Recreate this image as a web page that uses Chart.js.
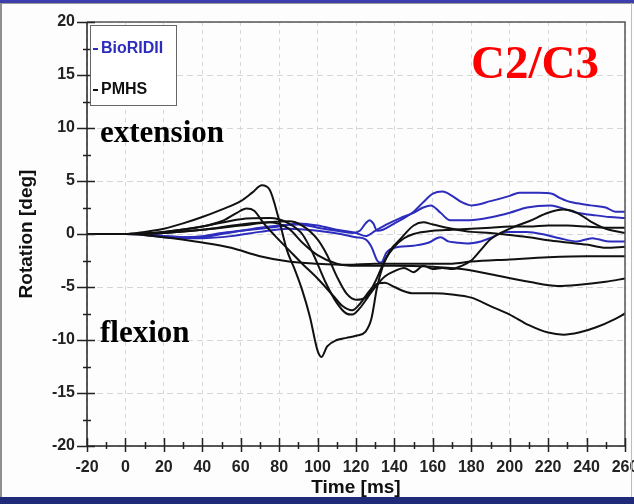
<!DOCTYPE html>
<html><head><meta charset="utf-8">
<script src="https://cdn.jsdelivr.net/npm/chart.js@4"></script>
<style>
html,body{margin:0;padding:0;background:#fff;}
#wrap{position:relative;width:634px;height:504px;overflow:hidden;background:#fdfdfd;}
#c{position:absolute;left:0;top:0;}
.bar{position:absolute;left:0;width:634px;}
.ann{position:absolute;white-space:nowrap;font-family:"Liberation Serif","Times New Roman",serif;font-weight:bold;line-height:1;}
#legend{position:absolute;left:90px;top:25px;width:87px;height:81px;border:1px solid #666;background:#fff;box-sizing:border-box;font-family:"Liberation Sans",Arial,sans-serif;font-weight:bold;font-size:16px;}
.lg{position:absolute;left:2px;white-space:nowrap;line-height:1;}
.lg span.d{display:inline-block;width:5px;height:2px;vertical-align:middle;margin-right:3px;}
</style>
</head><body>
<div id="wrap">
<canvas id="c" width="634" height="504"></canvas>
<div class="bar" style="top:0;height:3px;background:#3d3fae;"></div>
<div class="bar" style="top:3px;height:1px;background:#9a9a9a;"></div>
<div style="position:absolute;left:0;top:3px;width:2px;height:494px;background:#8f8f8f;"></div>
<div style="position:absolute;left:631px;top:3px;width:1px;height:494px;background:#bdbdbd;"></div>
<div class="bar" style="top:497px;height:7px;background:#1f2a78;"></div>
<div id="legend">
  <div class="lg" style="top:14px;color:#2d2dbd;"><span class="d" style="background:#2d2dbd;"></span>BioRIDII</div>
  <div class="lg" style="top:55px;color:#111;"><span class="d" style="background:#111;"></span>PMHS</div>
</div>
<div class="ann" style="left:100px;top:116px;font-size:31px;color:#000;">extension</div>
<div class="ann" style="left:100px;top:316px;font-size:31px;color:#000;">flexion</div>
<div class="ann" style="left:471px;top:39px;font-size:47px;color:#f00;">C2/C3</div>
</div>
<script>
// ---- axis ticks ----
const xTickValues = [-20,0,20,40,60,80,100,120,140,160,180,200,220,240,260];
const yTickValues = [-20,-15,-10,-5,0,5,10,15,20];
const xMinorValues = [-10,10,30,50,70,90,110,130,150,170,190,210,230,250];
const yMinorValues = [-17.5,-12.5,-7.5,-2.5,2.5,7.5,12.5,17.5];

// ---- BioRIDII (blue) ----
const bio1Time = [-20,0,10,20,30,40,50,60,70,80,90,100,110,118,122,125,127,129,131,134,140,145,150,155,160,165,170,175,180,190,200,205,215,222,226,230,235,242,250,255,260];
const bio1Rot  = [0,0,0,-0.2,-0.3,-0.3,0,0.3,0.6,0.8,0.9,0.6,0.3,0.1,0.3,1.0,1.3,1.0,0.3,0.4,1.0,1.5,2.1,3.0,3.8,4.0,3.6,3.0,2.7,3.1,3.6,3.9,3.9,3.8,3.4,3.1,2.9,2.7,2.5,2.1,2.1];
const bio2Time = [-20,0,10,20,30,40,50,60,70,80,90,100,110,120,125,130,136,143,150,155,159,164,169,179,191,200,209,221,226,235,243,252,260];
const bio2Rot  = [0,0,0,-0.2,-0.3,-0.2,0.1,0.3,0.5,0.7,1.0,0.8,0.4,0.1,-0.2,0.3,0.9,1.5,2.0,2.5,2.7,2.0,1.3,1.3,1.6,2.0,2.5,2.7,2.5,2.0,1.8,1.6,1.5];
const bio3Time = [-20,0,10,20,30,40,55,70,85,100,112,120,125,128,131,133,136,140,150,158,162,164,168,172,178,185,191,198,209,219,226,235,243,246,252,260];
const bio3Rot  = [0,0,-0.1,-0.3,-0.4,-0.4,-0.2,0.2,0.5,0.3,0.0,-0.3,-0.5,-1.2,-2.5,-2.7,-1.7,-1.3,-1.1,-0.8,-0.4,-0.3,-0.7,-0.8,-0.9,-0.7,-0.3,0.2,0.2,-0.1,-0.4,-0.7,-0.4,-0.5,-0.7,-0.7];

// ---- PMHS (black) ----
const pmhs1Time = [-20,0,10,20,30,40,50,60,66,71,75,80,84,88,92,96,100,102,105,110,115,120,125,128,131,134,138,143,150,155,160,170,180,190,200,210,220,230,240,250,260];
const pmhs1Rot  = [0,0,0.2,0.5,1.0,1.6,2.3,3.1,3.9,4.6,4.2,1.3,-1.5,-3.3,-5.3,-7.8,-11.0,-11.6,-10.6,-10.0,-9.8,-9.6,-9.2,-8.0,-5.0,-3.0,-1.5,-0.5,0.8,1.1,0.9,0.5,0.2,0.1,-0.1,-0.3,-0.6,-0.8,-1.0,-1.3,-1.2];
const pmhs2Time = [-20,0,20,40,50,58,63,67,72,78,85,92,100,108,113,118,122,126,130,135,140,145,150,160,170,180,190,200,210,220,228,236,245,255,260];
const pmhs2Rot  = [0,0,0.2,0.7,1.2,2.0,2.4,2.2,1.0,-0.2,-1.5,-2.8,-4.2,-5.8,-6.8,-7.2,-6.6,-5.6,-4.8,-4.6,-5.0,-5.4,-5.6,-5.6,-5.7,-6.0,-6.8,-7.6,-8.6,-9.3,-9.5,-9.3,-8.8,-8.0,-7.5];
const pmhs3Time = [-20,0,20,40,60,75,85,92,98,104,110,115,118,122,126,130,135,140,145,150,155,160,165,170,175,180,185,190,200,210,220,228,235,242,250,260];
const pmhs3Rot  = [0,0,0.2,0.7,1.4,1.5,1.0,0.0,-2.0,-4.5,-6.5,-7.5,-7.6,-7.0,-6.0,-5.0,-4.0,-3.5,-3.2,-3.6,-3.0,-3.3,-3.2,-3.3,-3.0,-2.5,-1.5,-0.5,0.5,1.2,2.0,2.3,2.0,1.2,0.5,0.1];
const pmhs4Time = [-20,0,20,40,60,75,85,92,100,105,110,115,120,125,130,135,140,145,150,160,170,180,190,200,210,220,230,240,250,260];
const pmhs4Rot  = [0,0,0.1,0.4,0.8,1.1,1.2,0.8,-0.5,-2.0,-4.0,-5.6,-6.2,-6.0,-4.5,-2.5,-1.2,-0.4,0.0,0.3,0.4,0.5,0.6,0.7,0.7,0.8,0.8,0.7,0.6,0.6];
const pmhs5Time = [-20,0,20,40,55,70,85,100,115,130,150,170,180,200,220,240,260];
const pmhs5Rot  = [0,0,-0.3,-0.8,-1.3,-2.1,-2.6,-2.8,-2.9,-2.8,-2.8,-2.8,-2.6,-2.4,-2.2,-2.1,-2.1];
const pmhs6Time = [-20,0,20,40,60,75,85,92,100,110,120,140,160,175,190,210,225,235,250,260];
const pmhs6Rot  = [0,0,0.1,0.4,0.9,1.1,0.5,-0.8,-2.0,-2.8,-3.0,-3.0,-3.1,-3.3,-3.8,-4.5,-4.9,-4.8,-4.5,-4.2];

const BLUE = '#2d2dbd', BLACK = '#111111';
function pts(t, v){ return t.map((x,i)=>({x:x, y:v[i]})); }
function ds(label, t, v, color){
  return {label, data: pts(t,v), borderColor: color, backgroundColor: color, borderWidth: 2,
          pointRadius: 0, cubicInterpolationMode: 'monotone', fill: false};
}
const datasets = [
  ds('PMHS', pmhs1Time, pmhs1Rot, BLACK),
  ds('PMHS', pmhs2Time, pmhs2Rot, BLACK),
  ds('PMHS', pmhs3Time, pmhs3Rot, BLACK),
  ds('PMHS', pmhs4Time, pmhs4Rot, BLACK),
  ds('PMHS', pmhs5Time, pmhs5Rot, BLACK),
  ds('PMHS', pmhs6Time, pmhs6Rot, BLACK),
  ds('BioRIDII', bio1Time, bio1Rot, BLUE),
  ds('BioRIDII', bio2Time, bio2Rot, BLUE),
  ds('BioRIDII', bio3Time, bio3Rot, BLUE)
];

const frameTicks = {
  id: 'frameTicks',
  afterDraw(chart){
    const {ctx, chartArea:a, scales:{x, y}} = chart;
    ctx.save();
    ctx.strokeStyle = '#555';
    ctx.lineWidth = 1.5;
    ctx.beginPath();
    ctx.moveTo(a.left, a.top); ctx.lineTo(a.right, a.top); ctx.lineTo(a.right, a.bottom);
    ctx.stroke();
    ctx.strokeStyle = '#222';
    ctx.lineWidth = 1.5;
    ctx.beginPath();
    ctx.moveTo(a.left, a.top); ctx.lineTo(a.left, a.bottom); ctx.lineTo(a.right, a.bottom);
    ctx.stroke();
    ctx.beginPath();
    yTickValues.forEach(v=>{ const p = Math.round(y.getPixelForValue(v))+0.5; ctx.moveTo(a.left-10, p); ctx.lineTo(a.left+8, p); });
    yMinorValues.forEach(v=>{ const p = Math.round(y.getPixelForValue(v))+0.5; ctx.moveTo(a.left-4, p); ctx.lineTo(a.left+4, p); });
    xTickValues.forEach(v=>{ const p = Math.round(x.getPixelForValue(v))+0.5; ctx.moveTo(p, a.bottom-8); ctx.lineTo(p, a.bottom+6); });
    xMinorValues.forEach(v=>{ const p = Math.round(x.getPixelForValue(v))+0.5; ctx.moveTo(p, a.bottom-4); ctx.lineTo(p, a.bottom+3); });
    ctx.stroke();
    ctx.restore();
  }
};

const tickFont = {family: '"Liberation Sans", Arial, sans-serif', size: 16, weight: 'bold'};
const titleFont = {family: '"Liberation Sans", Arial, sans-serif', size: 19, weight: 'bold'};

new Chart(document.getElementById('c'), {
  type: 'line',
  data: {datasets},
  options: {
    responsive: false,
    animation: false,
    layout: {padding: {left: 6, right: 9, top: 22, bottom: 1}},
    plugins: {legend: {display: false}, tooltip: {enabled: false}},
    elements: {line: {borderJoinStyle: 'round', borderCapStyle: 'round'}},
    scales: {
      x: {
        type: 'linear', min: -20, max: 260,
        afterBuildTicks: s => { s.ticks = xTickValues.map(v=>({value:v})); },
        afterFit: s => { s.height = 504 - 1 - 446; s.paddingLeft = 0; s.paddingRight = 0; },
        ticks: {font: tickFont, color: '#222', padding: 12, maxRotation: 0, autoSkip: false},
        grid: {color: '#d6d6d6', lineWidth: 1, drawTicks: false},
        border: {display: false, dash: [4,4]},
        title: {display: true, text: 'Time [ms]', font: titleFont, color: '#111', padding: {top: 0, bottom: 4}}
      },
      y: {
        type: 'linear', min: -20, max: 20,
        afterBuildTicks: s => { s.ticks = yTickValues.map(v=>({value:v})); },
        afterFit: s => { s.width = 87 - 6; s.paddingTop = 0; s.paddingBottom = 0; },
        ticks: {font: tickFont, color: '#222', padding: 12},
        grid: {color: '#d6d6d6', lineWidth: 1, drawTicks: false},
        border: {display: false, dash: [6,4]},
        title: {display: true, text: 'Rotation [deg]', font: titleFont, color: '#111', padding: {top: 9, bottom: 0}}
      }
    }
  },
  plugins: [frameTicks]
});
</script>
</body></html>
